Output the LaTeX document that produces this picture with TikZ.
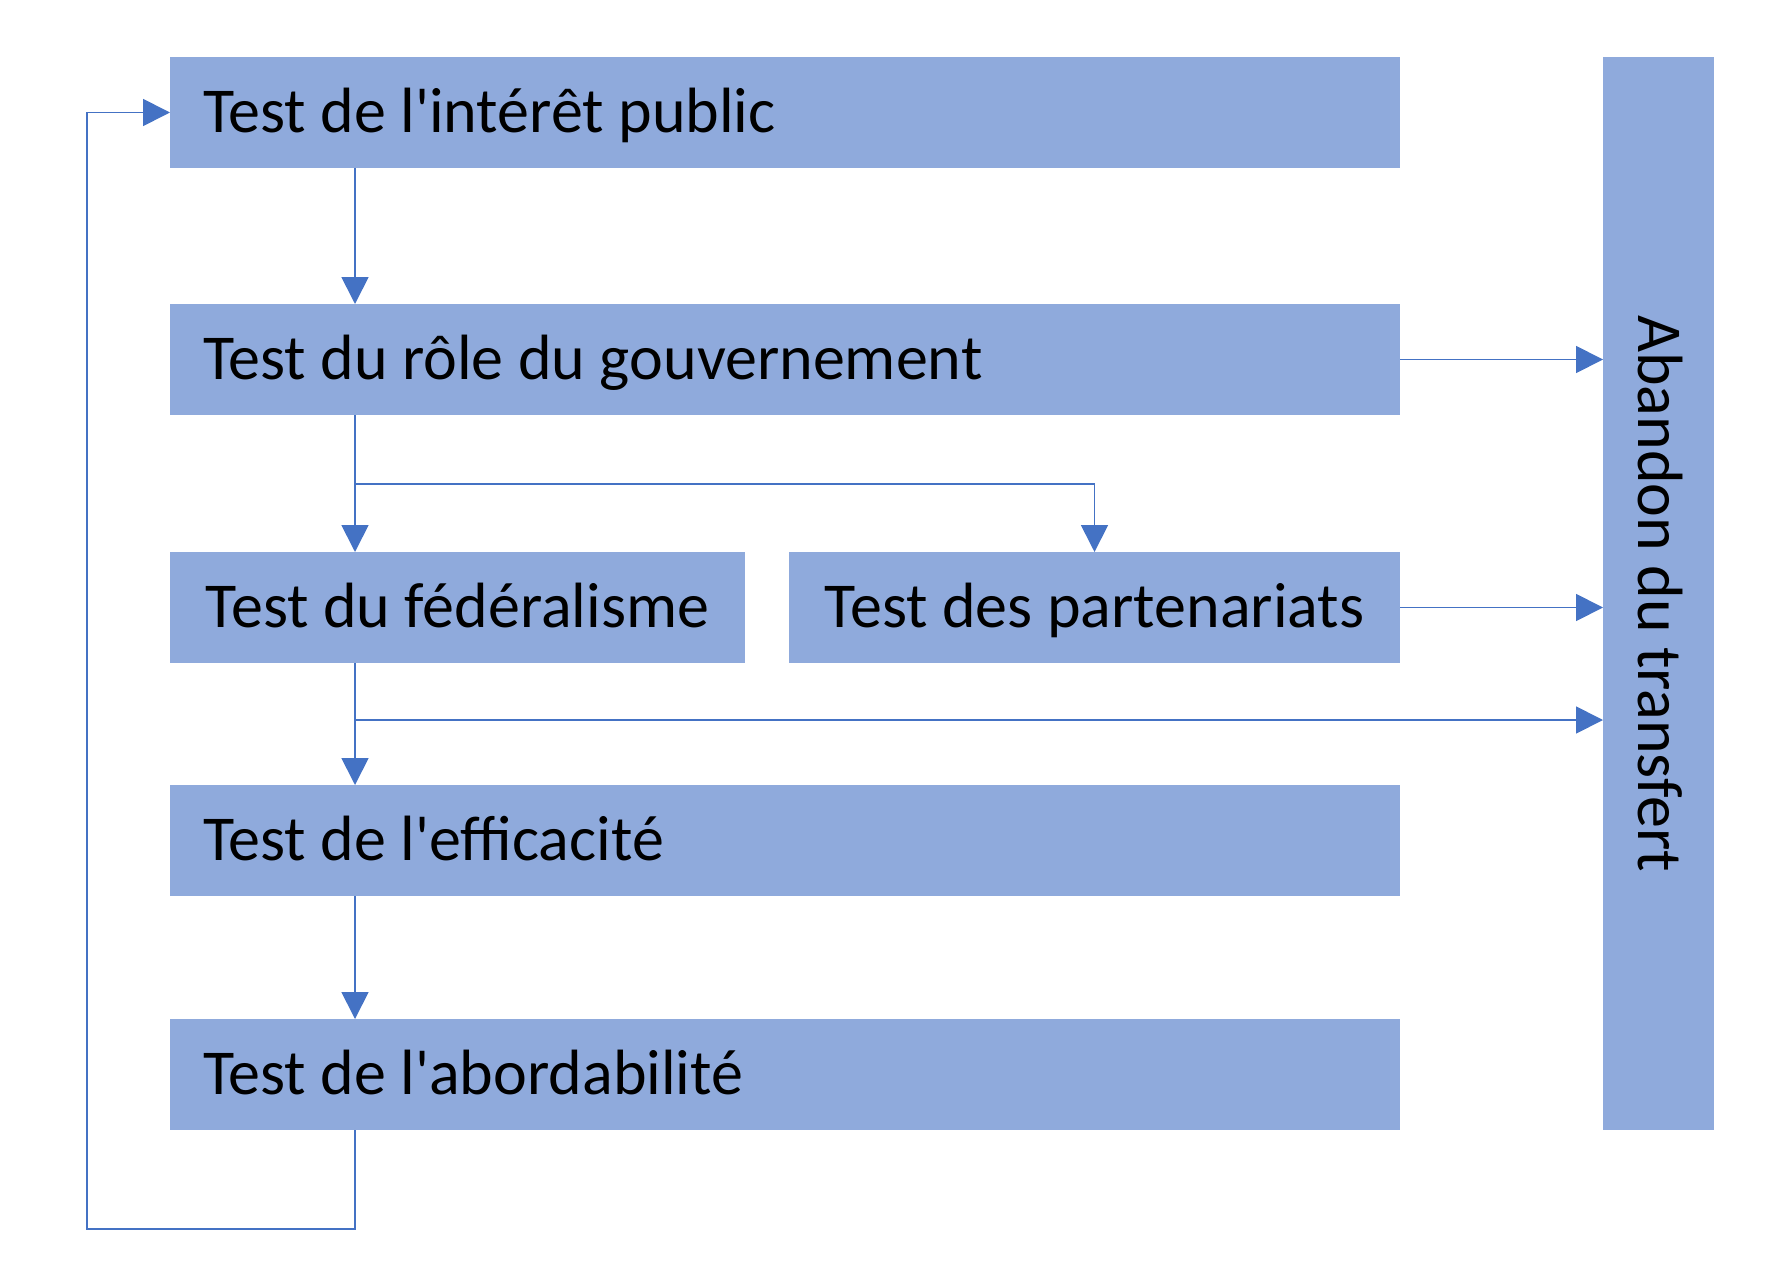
\documentclass[tikz,border=0pt]{standalone}
\usepackage{fontspec}
\setmainfont{Carlito}[Ligatures=TeXOff]
\usetikzlibrary{arrows.meta}
\definecolor{boxfill}{HTML}{8FAADC}
\definecolor{linecol}{HTML}{4472C4}
\newcommand{\lbox}[1]{\makebox[1164pt][l]{#1}}
\begin{document}
\begin{tikzpicture}[x=1pt,y=-1pt,
  box/.style={fill=boxfill, draw=none, anchor=north west, inner xsep=33pt, inner ysep=0pt,
    minimum height=111pt, text height=40.5pt, text depth=0pt, outer sep=0pt,
    font=\fontsize{64}{77}\selectfont},
  conn/.style={draw=linecol, line width=1.75pt},
  arr/.style={conn, -{Triangle[length=27pt,width=27pt]}}]
\useasboundingbox (0,0) rectangle (1784,1284);
% boxes
\node[box] (b1) at (170,57) {\lbox{Test de l'intérêt public}};
\node[box] (b2) at (170,304) {\lbox{Test du rôle du gouvernement}};
\node[box, inner xsep=0pt, minimum width=575pt] (b3a) at (170,552) {Test du fédéralisme};
\node[box, inner xsep=0pt, minimum width=611pt] (b3b) at (789,552) {Test des partenariats};
\node[box] (b4) at (170,785) {\lbox{Test de l'efficacité}};
\node[box] (b5) at (170,1019) {\lbox{Test de l'abordabilité}};
\node[box, inner xsep=0pt, minimum width=111pt, minimum height=1073pt] (ab) at (1603,57) {};
\node[rotate=-90, inner sep=0pt, text height=40.5pt, text depth=0pt,
  font=\fontsize{64}{77}\selectfont] (abt) at (ab.center) {Abandon du transfert};
% helper coordinates
\coordinate (vx) at (355,0);
\coordinate (br) at (355,484);
\coordinate (fb) at (355,720);
\coordinate (lp) at (87,1229);
% connectors
\draw[arr] (b1.south -| vx) -- (b2.north -| vx);
\draw[arr] (b2.south -| vx) -- (b3a.north -| vx);
\draw[arr] (br) -| (b3b.north);
\draw[arr] (b3a.south -| vx) -- (b4.north -| vx);
\draw[arr] (fb) -- (fb -| ab.west);
\draw[arr] (b4.south -| vx) -- (b5.north -| vx);
\draw[arr] (b2.east) -- (b2.east -| ab.west);
\draw[arr] (b3b.east) -- (b3b.east -| ab.west);
\draw[arr] (b5.south -| vx) |- (lp) |- (b1.west);
\end{tikzpicture}
\end{document}
